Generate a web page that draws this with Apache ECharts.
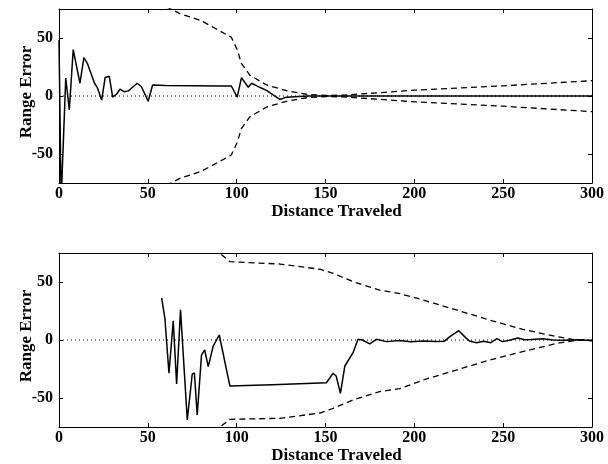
<!DOCTYPE html>
<html>
<head>
<meta charset="utf-8">
<script src="https://cdn.jsdelivr.net/npm/echarts@6/dist/echarts.min.js"></script>
<style>
    html, body {
        margin: 0;
        padding: 0;
        background: #fff;
    }

    #chart {
        width: 608px;
        height: 464px;
    }
</style>
</head>
<body>
<div id="chart"></div>
<script>
// top panel: range error along the path
const topDist = [0, 1.2, 3.8, 5.8, 8, 11.8, 14, 16, 20, 21.5, 24, 26, 28.3, 30.2, 32.4, 34.3, 36.6, 39, 44, 46.4, 50.2, 52.7, 60, 75, 90, 97, 100.3, 102.7, 106.5, 108.4, 113, 117, 120.5, 124.3, 128, 140, 170, 220, 260, 300]
const topErr = [48, -90, 15.5, -12, 40, 11, 33, 28, 11, 7.5, -3.5, 16, 17, -1, 1.5, 6, 3.7, 4.3, 11, 8, -4.5, 9.5, 9, 8.8, 8.6, 8.6, -1, 15.8, 7.5, 11, 7.5, 4.6, 1, -3, -1, 0, 0, 0, 0, 0]
// top panel: dashed error bounds
const topBoundDist = [50, 63, 68, 80, 97, 100.3, 102.7, 107.4, 116.8, 128, 139.3, 150, 160, 180, 200, 250, 300]
const topUpper = [84, 75, 71, 65, 50.6, 40, 28, 18, 9.5, 4.6, 1.5, 0.5, 0.8, 2.8, 5, 8.8, 13.2]
const topLower = [-84, -75, -71, -65, -50.9, -40, -28, -18, -9.5, -4.6, -1.5, -0.5, -0.8, -2.8, -5, -8.8, -13.5]

// bottom panel
const botDist = [57.8, 59.6, 61.9, 64.3, 66.2, 68.4, 72.2, 75, 76.2, 77.8, 80.2, 82, 84, 86.8, 90.2, 90.9, 96.2, 120, 150.5, 154.3, 156, 158.4, 160.9, 165.5, 168.3, 170.7, 174.9, 178.7, 184.3, 191.8, 198, 205, 212, 217, 220, 225, 228.3, 231, 235, 239, 243, 246.5, 249.5, 253, 258.3, 262, 266, 272.5, 278, 285, 292, 300]
const botErr = [36, 18.7, -28.7, 16.6, -38, 26, -69, -29.3, -28.5, -64.7, -13, -8.6, -23, -5.2, 4.3, 2.7, -39.7, -38.5, -36.8, -28.7, -31, -46, -22.4, -10.9, 0.6, 0, -3.4, 0.6, -1.4, -0.5, -1.5, -0.8, -1.2, -1, 2.9, 8, 2.9, -0.9, -2.3, -1, -2.3, 1.2, -1.4, -0.5, 1.7, 0.2, 0.5, 1.1, 0, -0.3, 0.3, -0.5]
const botBoundDist = [85, 90.6, 96.2, 124.3, 146.8, 154.3, 165.5, 180.5, 191.8, 205, 223.7, 242.4, 261, 280, 291.6, 300]
const botUpper = [88, 74.7, 67.5, 65.5, 61, 57.5, 50.3, 43, 40, 34.5, 25.9, 17.2, 9.2, 2.9, 0, -0.5]
const botLower = [-88, -75, -68.4, -67.5, -63, -58.9, -51.7, -44.5, -42, -34.5, -25.9, -17.2, -10, -3, 0, -0.5]

// dotted zero reference
const zeroDist = [0, 300]
const zeroErr = [0, 0]

const xTicks = [0, 50, 100, 150, 200, 250, 300]
const yTicks = [-50, 0, 50]

const tickFont = {
    fontFamily: 'Liberation Serif',
    fontWeight: 'bold',
    fontSize: 16,
    color: '#000'
}
const nameFont = Object.assign({}, tickFont, { fontSize: 17 })

function pairs(xs, ys) {
    return xs.map((x, i) => [x, ys[i]])
}

function xAxisFor(gridIndex, pos) {
    const bottom = pos === 'bottom'
    return {
        type: 'value',
        gridIndex: gridIndex,
        position: pos,
        min: xTicks[0],
        max: xTicks[xTicks.length - 1],
        interval: 50,
        name: bottom ? 'Distance Traveled' : '',
        nameLocation: 'middle',
        nameGap: 17,
        nameTextStyle: Object.assign({ padding: [0, 0, 0, 22] }, nameFont),
        axisLine: { show: true, onZero: false, lineStyle: { color: '#000', width: 1 } },
        axisTick: { show: true, inside: true, length: 4, lineStyle: { color: '#000' } },
        axisLabel: Object.assign({ show: bottom, margin: 3 }, tickFont),
        splitLine: { show: false }
    }
}

function yAxisFor(gridIndex, pos) {
    const left = pos === 'left'
    return {
        type: 'value',
        gridIndex: gridIndex,
        position: pos,
        min: -75,
        max: 75,
        name: left ? 'Range Error' : '',
        nameLocation: 'middle',
        nameGap: 24,
        nameMoveOverlap: false,
        // push the rotated name up a little
        nameTextStyle: Object.assign({ padding: [0, 0, 0, 8] }, nameFont),
        axisLine: { show: true, onZero: false, lineStyle: { color: '#000', width: 1 } },
        axisTick: { show: true, inside: true, length: 4, customValues: yTicks, lineStyle: { color: '#000' } },
        axisLabel: Object.assign({ show: left, margin: 6, customValues: yTicks }, tickFont),
        splitLine: { show: false }
    }
}

function lineSeries(xi, yi, data, type, width) {
    return {
        type: 'line',
        xAxisIndex: xi,
        yAxisIndex: yi,
        data: data,
        showSymbol: false,
        clip: true,
        silent: true,
        animation: false,
        lineStyle: { color: '#000', width: width, type: type }
    }
}

const chart = echarts.init(document.getElementById('chart'))
chart.setOption({
    backgroundColor: '#fff',
    animation: false,
    grid: [
        { left: 59, top: 9, width: 533, height: 174, outerBoundsMode: 'none' },
        { left: 59, top: 253, width: 533, height: 174, outerBoundsMode: 'none' }
    ],
    xAxis: [
        xAxisFor(0, 'bottom'),
        xAxisFor(0, 'top'),
        xAxisFor(1, 'bottom'),
        xAxisFor(1, 'top')
    ],
    yAxis: [
        yAxisFor(0, 'left'),
        yAxisFor(0, 'right'),
        yAxisFor(1, 'left'),
        yAxisFor(1, 'right')
    ],
    series: [
        // top panel
        lineSeries(0, 0, pairs(zeroDist, zeroErr), [1, 3], 1),
        lineSeries(0, 0, pairs(topBoundDist, topUpper), [6, 4], 1.3),
        lineSeries(0, 0, pairs(topBoundDist, topLower), [6, 4], 1.3),
        lineSeries(0, 0, pairs(topDist, topErr), 'solid', 1.5),
        // bottom panel
        lineSeries(2, 2, pairs(zeroDist, zeroErr), [1, 3], 1),
        lineSeries(2, 2, pairs(botBoundDist, botUpper), [6, 4], 1.3),
        lineSeries(2, 2, pairs(botBoundDist, botLower), [6, 4], 1.3),
        lineSeries(2, 2, pairs(botDist, botErr), 'solid', 1.5)
    ]
})
</script>
</body>
</html>
